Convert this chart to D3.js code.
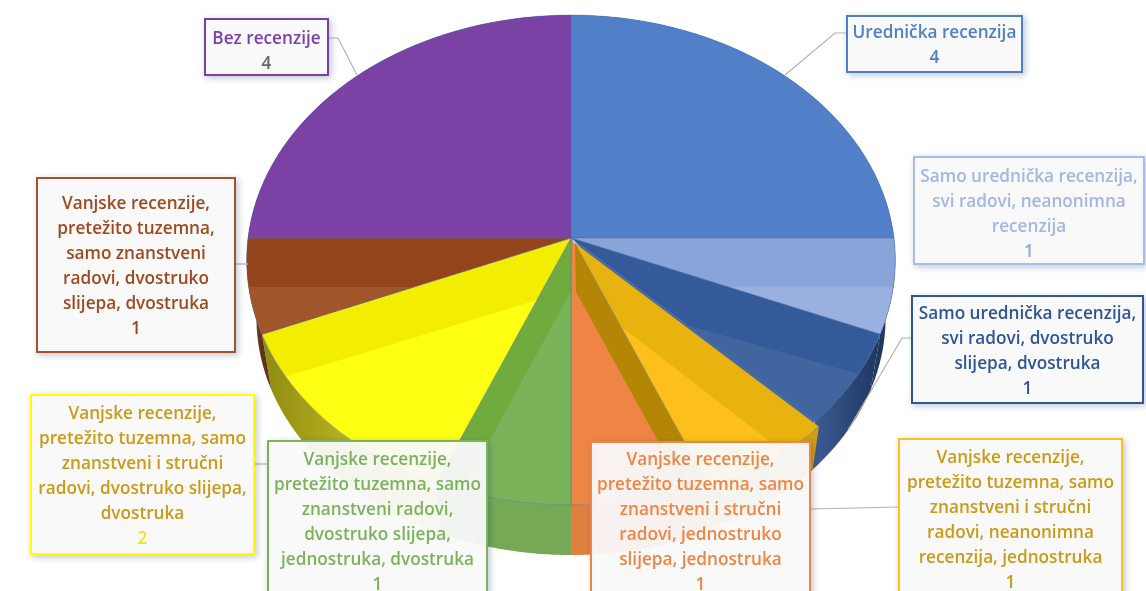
<!DOCTYPE html>
<html>
<head>
<meta charset="utf-8">
<style>
    html, body { margin: 0; padding: 0; background: #fff; overflow: hidden; }
    svg { display: block; filter: blur(0.45px); }
    text { font-family: "Open Sans", "Noto Sans", sans-serif; font-weight: 600; font-size: 17.2px; }
</style>
<script src="https://cdn.jsdelivr.net/npm/d3@7"></script>
</head>
<body>
<div id="chart"></div>
<script>
var categories = [
    "Urednička recenzija",
    "Samo urednička recenzija, svi radovi, neanonimna recenzija",
    "Samo urednička recenzija, svi radovi, dvostruko slijepa, dvostruka",
    "Vanjske recenzije, pretežito tuzemna, samo znanstveni i stručni radovi, neanonimna recenzija, jednostruka",
    "Vanjske recenzije, pretežito tuzemna, samo znanstveni i stručni radovi, jednostruko slijepa, jednostruka",
    "Vanjske recenzije, pretežito tuzemna, samo znanstveni radovi, dvostruko slijepa, jednostruka, dvostruka",
    "Vanjske recenzije, pretežito tuzemna, samo znanstveni i stručni radovi, dvostruko slijepa, dvostruka",
    "Vanjske recenzije, pretežito tuzemna, samo znanstveni radovi, dvostruko slijepa, dvostruka",
    "Bez recenzije"
];
var values = [4, 1, 1, 1, 1, 1, 2, 1, 4];

// line breaks of each label, in the order of the categories
var labelLines = [
    ["Urednička recenzija"],
    ["Samo urednička recenzija,", "svi radovi, neanonimna", "recenzija"],
    ["Samo urednička recenzija,", "svi radovi, dvostruko", "slijepa, dvostruka"],
    ["Vanjske recenzije,", "pretežito tuzemna, samo", "znanstveni i stručni", "radovi, neanonimna", "recenzija, jednostruka"],
    ["Vanjske recenzije,", "pretežito tuzemna, samo", "znanstveni i stručni", "radovi, jednostruko", "slijepa, jednostruka"],
    ["Vanjske recenzije,", "pretežito tuzemna, samo", "znanstveni radovi,", "dvostruko slijepa,", "jednostruka, dvostruka"],
    ["Vanjske recenzije,", "pretežito tuzemna, samo", "znanstveni i stručni", "radovi, dvostruko slijepa,", "dvostruka"],
    ["Vanjske recenzije,", "pretežito tuzemna,", "samo znanstveni", "radovi, dvostruko", "slijepa, dvostruka"],
    ["Bez recenzije"]
];

(function(){
    var width = 1146;
    var height = 591;

    // pie geometry
    var cx = 571, cy = 238, rx = 323, ry = 243;
    var perspective = 0.09;
    var depth = 58, baseScale = 0.97;

    // upper is the darker part of the face near the centre, lower the outer part, wall the side
    var styles = [
        {upper: "#5280c8", lower: "#5280c8", wall: ["#3f67a8", "#3f67a8"]},
        {upper: "#88a4d9", lower: "#99b0e0", wall: ["#22385f", "#22385f"]},
        {upper: "#345a9a", lower: "#41659f", wall: ["#1f3660", "#3b5b92"]},
        {upper: "#e9b30f", lower: "#fdc01a", wall: ["#d2a012", "#c9990f"]},
        {upper: "#ee8544", lower: "#ee8544", wall: ["#e0803f", "#e0803f"]},
        {upper: "#70ab40", lower: "#7bb35a", wall: ["#76a955", "#76a955"]},
        {upper: "#f3ee00", lower: "#ffff14", wall: ["#e2da2c", "#8f8a12"]},
        {upper: "#94441a", lower: "#a1552a", wall: ["#5c3518", "#8a4a22"]},
        {upper: "#7b41a5", lower: "#7b41a5", wall: ["#5d3180", "#5d3180"]}
    ];

    // where the darker part of each face ends, as two points relative to the pie centre
    var gloss = [
        null,
        [[100, 49], [340, 49]],
        [[126, 90], [309, 142]],
        [[52, 90], [197, 202]],
        null,
        [[-1, 55], [-81, 202]],
        [[-283, 138], [-34, 62]],
        [[-340, 49], [-250, 49]],
        null
    ];

    var goldIndex = 3;
    var goldTop = [4, 5], goldBase = [5, -4];

    // one entry per label, index follows the categories
    var boxes = [
        {x: 847, y: 16, w: 175, h: 56, text: "#4f7fc7", value: "#4f7fc7", border: "#4f7fc7", first: 32, leader: [[847, 33], [835, 33], [785, 75]]},
        {x: 914, y: 157, w: 230, h: 107, text: "#a3b7e4", value: "#8fa8dd", border: "#a9bce8", first: 176, leader: null},
        {x: 912, y: 296, w: 231, h: 107, text: "#2f5597", value: "#2f5597", border: "#2f5597", first: 313, leader: [[912, 338], [902, 338], [848, 430]]},
        {x: 899, y: 439, w: 223, h: 170, text: "#c99b17", value: "#c99b17", border: "#ffc21a", first: 457, leader: [[899, 507], [810, 509]]},
        {x: 591, y: 442, w: 219, h: 170, text: "#ef8544", value: "#ef8544", border: "#ef8544", first: 459, leader: null},
        {x: 268, y: 441, w: 219, h: 170, text: "#7bb35a", value: "#7bb35a", border: "#7bb35a", first: 459, leader: null},
        {x: 31, y: 395, w: 223, h: 159, text: "#c99b17", value: "#f2e21a", border: "#ffff00", first: 413, leader: [[254, 464], [268, 464]]},
        {x: 37, y: 178, w: 198, h: 174, text: "#9c4a1e", value: "#9c4a1e", border: "#a5532a", first: 203, leader: [[235, 264], [248, 264]]},
        {x: 205, y: 19, w: 123, h: 56, text: "#7b41a5", value: "#666", border: "#7b41a5", first: 38, leader: [[328, 38], [338, 38], [357, 75]]}
    ];
    var lineStep = 25;

    var svg = d3.select("#chart")
        .append("svg")
            .attr("width", width)
            .attr("height", height)
            .attr("xmlns", "http://www.w3.org/2000/svg");

    var defs = svg.append("defs");

    var shadow = defs.append("filter")
        .attr("id", "box_shadow")
        .attr("x", "-20%").attr("y", "-20%")
        .attr("width", "140%").attr("height", "140%");
    shadow.append("feDropShadow")
        .attr("dx", 2).attr("dy", 2)
        .attr("stdDeviation", 3)
        .attr("flood-color", "#1f3864")
        .attr("flood-opacity", 0.3);

    var pie = d3.pie().sort(null).value(function(d){ return d; });
    var slices = pie(values);

    var line = d3.line();

    // angle is clockwise from the top, r is 0..1 of the radius
    function project(angle, r, base) {
        var u = Math.sin(angle) * r;
        var v = -Math.cos(angle) * r;
        var w = 1 / (1 - perspective * v);
        var scale = base ? baseScale : 1;
        return [
            cx + scale * rx * u * w,
            cy + (base ? depth : 0) + scale * ry * v * w
        ];
    }

    function arcPoints(d, base, shift) {
        var steps = d3.range(0, 41).map(function(i){
            return d.startAngle + (d.endAngle - d.startAngle) * i / 40;
        });
        return steps.map(function(a){
            var p = project(a, 1, base);
            return shift ? [p[0] + shift[0], p[1] + shift[1]] : p;
        });
    }

    function facePath(d, shift) {
        var points = arcPoints(d, false, shift);
        var centre = shift ? [cx + shift[0], cy + shift[1]] : [cx, cy];
        return line([centre].concat(points)) + "Z";
    }

    function wallPath(d, topShift, baseShift) {
        var top = arcPoints(d, false, topShift);
        var bottom = arcPoints(d, true, baseShift).reverse();
        return line(top.concat(bottom)) + "Z";
    }

    function wallGradient(d, i, topShift) {
        var top = arcPoints(d, false, topShift);
        var id = "wall_" + i;
        var gradient = defs.append("linearGradient")
            .attr("id", id)
            .attr("gradientUnits", "userSpaceOnUse")
            .attr("x1", top[0][0]).attr("y1", 0)
            .attr("x2", top[top.length - 1][0]).attr("y2", 0);
        gradient.append("stop").attr("offset", 0).attr("stop-color", styles[i].wall[0]);
        gradient.append("stop").attr("offset", 1).attr("stop-color", styles[i].wall[1]);
        return "url(#" + id + ")";
    }

    var pieGroup = svg.append("g").attr("class", "pie");

    function drawFace(d, i, shift) {
        var clipId = "face_clip_" + i;
        defs.append("clipPath")
            .attr("id", clipId)
            .append("path")
            .attr("d", facePath(d, shift));

        pieGroup.append("path")
            .attr("d", facePath(d, shift))
            .attr("fill", styles[i].upper);

        if (gloss[i]) {
            var a = [cx + gloss[i][0][0], cy + gloss[i][0][1]];
            var b = [cx + gloss[i][1][0], cy + gloss[i][1][1]];
            var dx = b[0] - a[0], dy = b[1] - a[1];
            var len = Math.sqrt(dx * dx + dy * dy);
            dx /= len; dy /= len;
            // normal pointing away from the pie centre
            var nx = -dy, ny = dx;
            if ((cx - a[0]) * nx + (cy - a[1]) * ny > 0) { nx = -nx; ny = -ny; }
            var far = 900;
            var p1 = [a[0] - dx * far, a[1] - dy * far];
            var p2 = [b[0] + dx * far, b[1] + dy * far];
            var p3 = [p2[0] + nx * far, p2[1] + ny * far];
            var p4 = [p1[0] + nx * far, p1[1] + ny * far];
            pieGroup.append("path")
                .attr("d", line([p1, p2, p3, p4]) + "Z")
                .attr("fill", styles[i].lower)
                .attr("clip-path", "url(#" + clipId + ")");
        }

        pieGroup.append("path")
            .attr("d", facePath(d, shift))
            .attr("fill", "none")
            .attr("stroke", "#4a6ca8")
            .attr("stroke-opacity", 0.55)
            .attr("stroke-width", 0.8);
    }

    // side walls first, only the ones that turn to the viewer show
    slices.forEach(function(d, i){
        if (i === goldIndex) { return; }
        pieGroup.append("path")
            .attr("d", wallPath(d))
            .attr("fill", wallGradient(d, i));
    });

    slices.forEach(function(d, i){
        if (i === goldIndex) { return; }
        drawFace(d, i);
    });

    // the gold slice is pulled out, so its cut side shows over the orange one
    var gold = slices[goldIndex];
    var cutTop = project(gold.endAngle, 1, false);
    var cutBase = project(gold.endAngle, 1, true);
    var cut = [
        [cx + goldTop[0], cy + goldTop[1]],
        [cutTop[0] + goldTop[0], cutTop[1] + goldTop[1]],
        [cutBase[0] + goldBase[0], cutBase[1] + goldBase[1]],
        [cx + goldBase[0], cy + depth + goldBase[1]]
    ];

    // dark blue behind the pulled out slice so no gap opens along its edge
    var backing = {startAngle: gold.startAngle, endAngle: gold.startAngle + (gold.endAngle - gold.startAngle) / 3};
    pieGroup.append("path")
        .attr("d", facePath(backing))
        .attr("fill", styles[2].lower);

    pieGroup.append("path")
        .attr("d", wallPath(gold, goldTop, goldBase))
        .attr("fill", wallGradient(gold, goldIndex, goldTop));
    pieGroup.append("path")
        .attr("d", line(cut) + "Z")
        .attr("fill", "#b58605");
    drawFace(gold, goldIndex, goldTop);

    // leader lines
    var leaders = svg.append("g").attr("class", "leaders");
    boxes.forEach(function(b){
        if (!b.leader) { return; }
        leaders.append("path")
            .attr("d", line(b.leader))
            .attr("fill", "none")
            .attr("stroke", "#b2b2b2")
            .attr("stroke-width", 1.2);
    });

    // labels
    var labels = svg.selectAll(".label")
        .data(boxes)
        .enter()
        .append("g")
        .attr("class", "label");

    labels.append("rect")
        .attr("x", function(d){ return d.x; })
        .attr("y", function(d){ return d.y; })
        .attr("width", function(d){ return d.w; })
        .attr("height", function(d){ return d.h; })
        .attr("fill", "#fbfbfc")
        .attr("fill-opacity", 0.93)
        .attr("stroke", function(d){ return d.border; })
        .attr("stroke-width", 2)
        .attr("filter", "url(#box_shadow)");

    labels.each(function(d, i){
        var g = d3.select(this);
        var rows = labelLines[i];
        rows.forEach(function(row, j){
            g.append("text")
                .attr("x", d.x + d.w / 2)
                .attr("y", d.first + j * lineStep)
                .attr("dy", "0.35em")
                .attr("text-anchor", "middle")
                .attr("fill", d.text)
                .text(row);
        });
        g.append("text")
            .attr("x", d.x + d.w / 2)
            .attr("y", d.first + rows.length * lineStep)
            .attr("dy", "0.35em")
            .attr("text-anchor", "middle")
            .attr("fill", d.value)
            .text(values[i]);
    });
})();
</script>
</body>
</html>
